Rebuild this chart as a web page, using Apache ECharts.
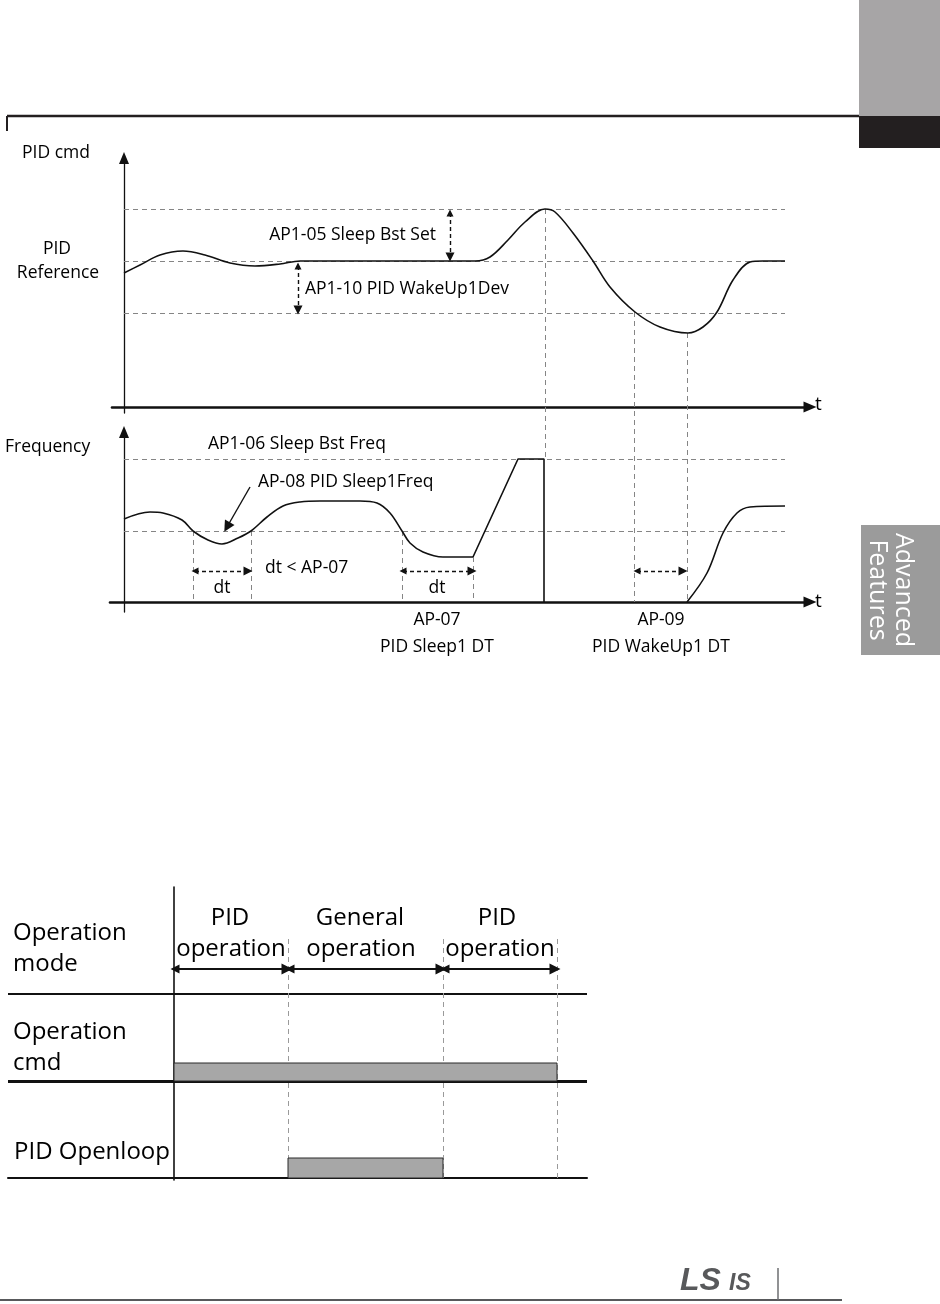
<!DOCTYPE html>
<html>
<head>
<meta charset="utf-8">
<script src="https://cdn.jsdelivr.net/npm/echarts@6/dist/echarts.min.js"></script>
<style>
  html, body { margin: 0; padding: 0; background: #fff; }
  #main { width: 940px; height: 1304px; }
</style>
</head>
<body>
<div id="main"></div>
<script>
// ---- data (time / level units) ----
// PID cmd curve
var pidTime  = [0, 16, 36, 59, 81, 106, 131, 156, 176, 351, 366, 384, 401, 421, 431, 449, 469, 486, 511, 536, 564, 579, 593, 609, 626, 639, 661];
var pidValue = [134, 142, 152, 156, 152, 144, 141, 143, 146, 146, 150, 167, 185, 198, 195, 174, 146, 120, 95, 80, 74, 80, 95, 127, 145, 146, 146];
// PID cmd levels: sleep boost set, reference, wake-up deviation
var pidLevels = [198, 146, 94];

// Frequency curve: running / sleep-boost ramp / wake-up
var freqTimeA  = [0, 26, 39, 58, 69, 84, 98, 114, 127, 143, 159, 176, 196, 236, 253, 266, 278, 286, 299, 319, 349];
var freqValueA = [83, 90, 89, 82, 71, 62, 58, 64, 71, 85, 96, 100, 101, 101, 99, 89, 71, 59, 50, 45, 45];
var freqTimeB  = [349, 394, 420, 420];
var freqValueB = [45, 143, 143, 0];
var freqTimeC  = [563, 583, 599, 613, 626, 661];
var freqValueC = [0, 29, 69, 89, 95, 96];
// Frequency levels: sleep boost freq, sleep freq
var freqLevels = [143, 71];
var levelEnd = 661;

// event times (shared by both plots)
var eventTime = [421, 510, 563];
var eventTop  = [198, 95, 74];
var eventBottom = [-52, -195, -195];
var sleepCheckTime = [69, 127, 278, 349];
var sleepCheckTop  = [71, 71, 71, 45];
var dtSpans = [[71, 124], [279, 348], [513, 559]];
var dtLevel = 31;

// Operation timing chart
var modeBounds = [0, 114, 269, 383];
var rowLines = [97, 184];
var cmdBar = [0, 383, 97, 115];
var openloopBar = [114, 269, 0, 20];

var zip = function (a, b) { return a.map(function (v, i) { return [v, b[i]]; }); };

var dash = { color: '#858585', width: 1, type: [5, 4], opacity: 1 };
var ink = '#111';
var font = '"Open Sans", "Noto Sans", sans-serif';

var chart = echarts.init(document.getElementById('main'));

function hLines(levels, x0, x1) {
    return levels.map(function (y) { return { coords: [[x0, y], [x1, y]] }; });
}

function txt(x, y, s, size, align) {
    return {
        type: 'text', x: x, y: y,
        style: { text: s, fill: '#000', font: (size || 17.5) + 'px ' + font, textAlign: align || 'left', textVerticalAlign: 'middle' }
    };
}

var axisOff = { show: false };

option = {
    backgroundColor: '#fff',
    animation: false,
    grid: [
        { left: 112, right: 130, top: 158, bottom: 891 },
        { left: 110, right: 130, top: 432, bottom: 692 },
        { left: 8, right: 353, top: 887, bottom: 124 }
    ],
    xAxis: [
        { gridIndex: 0, type: 'value', min: -12, max: 686, splitLine: axisOff, axisLabel: axisOff, axisTick: axisOff,
          axisLine: { onZero: true, symbol: ['none', 'triangle'], symbolSize: [11, 13], lineStyle: { color: ink, width: 2.6 } } },
        { gridIndex: 1, type: 'value', min: -14, max: 686, splitLine: axisOff, axisLabel: axisOff, axisTick: axisOff,
          axisLine: { onZero: true, symbol: ['none', 'triangle'], symbolSize: [11, 13], lineStyle: { color: ink, width: 2.6 } } },
        { gridIndex: 2, type: 'value', min: -166, max: 413, splitLine: axisOff, axisLabel: axisOff, axisTick: axisOff,
          axisLine: { onZero: true, lineStyle: { color: ink, width: 2 } } }
    ],
    yAxis: [
        { gridIndex: 0, type: 'value', min: -6, max: 249, splitLine: axisOff, axisLabel: axisOff, axisTick: axisOff,
          axisLine: { onZero: true, symbol: ['none', 'triangle'], symbolSize: [10, 12], lineStyle: { color: ink, width: 1.3 } } },
        { gridIndex: 1, type: 'value', min: -10, max: 170, splitLine: axisOff, axisLabel: axisOff, axisTick: axisOff,
          axisLine: { onZero: true, symbol: ['none', 'triangle'], symbolSize: [10, 12], lineStyle: { color: ink, width: 1.3 } } },
        { gridIndex: 2, type: 'value', min: -2, max: 291, splitLine: axisOff, axisLabel: axisOff, axisTick: axisOff,
          axisLine: { onZero: true, lineStyle: { color: ink, width: 1.6 } } }
    ],
    series: [
        // --- PID cmd plot
        { type: 'lines', coordinateSystem: 'cartesian2d', xAxisIndex: 0, yAxisIndex: 0, clip: false, silent: true,
          lineStyle: dash, data: hLines(pidLevels, 0, levelEnd) },
        { type: 'lines', coordinateSystem: 'cartesian2d', xAxisIndex: 0, yAxisIndex: 0, clip: false, silent: true,
          lineStyle: dash, data: eventTime.map(function (t, i) { return { coords: [[t, eventTop[i]], [t, eventBottom[i]]] }; }) },
        { type: 'line', xAxisIndex: 0, yAxisIndex: 0, data: zip(pidTime, pidValue), smooth: 0.35, showSymbol: false,
          lineStyle: { color: ink, width: 1.6 } },
        { type: 'lines', coordinateSystem: 'cartesian2d', xAxisIndex: 0, yAxisIndex: 0, clip: false, silent: true,
          symbol: ['triangle', 'triangle'], symbolSize: [7, 9],
          lineStyle: { color: ink, width: 1.4, type: [4, 3], opacity: 1 },
          data: [{ coords: [[326, 194], [326, 150]] }, { coords: [[174, 141], [174, 97]] }] },

        // --- Frequency plot
        { type: 'lines', coordinateSystem: 'cartesian2d', xAxisIndex: 1, yAxisIndex: 1, clip: false, silent: true,
          lineStyle: dash,
          data: hLines(freqLevels, 0, levelEnd).concat(sleepCheckTime.map(function (t, i) {
              return { coords: [[t, sleepCheckTop[i]], [t, 0]] };
          })) },
        { type: 'line', xAxisIndex: 1, yAxisIndex: 1, data: zip(freqTimeA, freqValueA), smooth: 0.35, showSymbol: false,
          lineStyle: { color: ink, width: 1.6 } },
        { type: 'line', xAxisIndex: 1, yAxisIndex: 1, data: zip(freqTimeB, freqValueB), showSymbol: false,
          lineStyle: { color: ink, width: 1.6 } },
        { type: 'line', xAxisIndex: 1, yAxisIndex: 1, data: zip(freqTimeC, freqValueC), smooth: 0.35, showSymbol: false,
          lineStyle: { color: ink, width: 1.6 } },
        { type: 'lines', coordinateSystem: 'cartesian2d', xAxisIndex: 1, yAxisIndex: 1, clip: false, silent: true,
          symbol: ['triangle', 'triangle'], symbolSize: [7, 9],
          lineStyle: { color: ink, width: 1.4, type: [4, 3], opacity: 1 },
          data: dtSpans.map(function (s) { return { coords: [[s[0], dtLevel], [s[1], dtLevel]] }; }) },
        { type: 'lines', coordinateSystem: 'cartesian2d', xAxisIndex: 1, yAxisIndex: 1, clip: false, silent: true,
          symbol: ['none', 'triangle'], symbolSize: [8, 11],
          lineStyle: { color: ink, width: 1.4, opacity: 1 },
          data: [{ coords: [[126, 115], [103, 75]] }] },

        // --- Operation timing chart
        { type: 'lines', coordinateSystem: 'cartesian2d', xAxisIndex: 2, yAxisIndex: 2, clip: false, silent: true,
          lineStyle: { color: ink, width: 2, opacity: 1 },
          data: [{ coords: [[-166, rowLines[1]], [413, rowLines[1]]] },
                 { coords: [[-166, rowLines[0]], [413, rowLines[0]]], lineStyle: { width: 3 } }] },
        { type: 'lines', coordinateSystem: 'cartesian2d', xAxisIndex: 2, yAxisIndex: 2, clip: false, silent: true,
          lineStyle: { color: '#9a9a9a', width: 1, type: [5, 4], opacity: 1 },
          data: modeBounds.slice(1).map(function (s) { return { coords: [[s, 239], [s, 0]] }; }) },
        { type: 'lines', coordinateSystem: 'cartesian2d', xAxisIndex: 2, yAxisIndex: 2, clip: false, silent: true,
          symbol: ['triangle', 'triangle'], symbolSize: [9, 11],
          lineStyle: { color: ink, width: 2, opacity: 1 },
          data: [{ coords: [[1, 209], [113, 209]] }, { coords: [[116, 209], [267, 209]] }, { coords: [[271, 209], [381, 209]] }] },
        { type: 'custom', xAxisIndex: 2, yAxisIndex: 2, silent: true,
          encode: { x: [0, 1], y: [2, 3] },
          data: [cmdBar, openloopBar],
          renderItem: function (params, api) {
              var a = api.coord([api.value(0), api.value(3)]);
              var b = api.coord([api.value(1), api.value(2)]);
              return { type: 'rect', shape: { x: a[0], y: a[1], width: b[0] - a[0], height: b[1] - a[1] },
                       style: { fill: '#a7a7a7', stroke: '#2a2a2a', lineWidth: 1 } };
          } }
    ],
    graphic: [
        // page header and tabs
        { type: 'line', shape: { x1: 7, y1: 116, x2: 860, y2: 116 }, style: { stroke: '#231f20', lineWidth: 2.5 } },
        { type: 'line', shape: { x1: 7, y1: 116, x2: 7, y2: 131 }, style: { stroke: '#231f20', lineWidth: 2 } },
        { type: 'rect', shape: { x: 859, y: 0, width: 81, height: 116 }, style: { fill: '#a7a5a6' } },
        { type: 'rect', shape: { x: 859, y: 116, width: 81, height: 32 }, style: { fill: '#231f20' } },
        { type: 'rect', shape: { x: 861, y: 525, width: 79, height: 130 }, style: { fill: '#9b9b9b' } },
        { type: 'text', x: 890, y: 590, rotation: -Math.PI / 2,
          style: { text: 'Advanced\nFeatures', fill: '#fff', font: '25px ' + font, lineHeight: 26, textAlign: 'center', textVerticalAlign: 'middle' } },

        // footer
        { type: 'line', shape: { x1: 0, y1: 1300, x2: 842, y2: 1300 }, style: { stroke: '#58595b', lineWidth: 2 } },
        { type: 'line', shape: { x1: 778, y1: 1268, x2: 778, y2: 1300 }, style: { stroke: '#6d6e70', lineWidth: 1.5 } },
        { type: 'text', x: 680, y: 1297, style: { text: 'LS', fill: '#58595b', font: 'italic bold 32px "Liberation Sans", sans-serif', textVerticalAlign: 'bottom' } },
        { type: 'text', x: 729, y: 1295, style: { text: 'IS', fill: '#58595b', font: 'italic bold 23px "Liberation Sans", sans-serif', textVerticalAlign: 'bottom' } },

        // PID cmd plot texts
        txt(22, 153, 'PID cmd'),
        txt(57, 249, 'PID', 17.5, 'center'),
        txt(58, 273, 'Reference', 17.5, 'center'),
        txt(436, 235, 'AP1-05 Sleep Bst Set', 17.5, 'right'),
        txt(305, 289, 'AP1-10 PID WakeUp1Dev'),
        txt(815, 405, 't', 19),

        // Frequency plot texts
        txt(5, 447, 'Frequency'),
        txt(208, 444, 'AP1-06 Sleep Bst Freq'),
        txt(258, 482, 'AP-08 PID Sleep1Freq'),
        txt(265, 568, 'dt < AP-07'),
        txt(222, 588, 'dt', 17.5, 'center'),
        txt(437, 588, 'dt', 17.5, 'center'),
        txt(815, 602, 't', 19),
        txt(437, 620, 'AP-07', 17.5, 'center'),
        txt(437, 647, 'PID Sleep1 DT', 17.5, 'center'),
        txt(661, 620, 'AP-09', 17.5, 'center'),
        txt(661, 647, 'PID WakeUp1 DT', 17.5, 'center'),

        // Operation timing chart texts
        txt(13, 933, 'Operation', 24),
        txt(13, 964, 'mode', 24),
        txt(13, 1032, 'Operation', 24),
        txt(13, 1063, 'cmd', 24),
        txt(14, 1152, 'PID Openloop', 24),
        txt(230, 918, 'PID', 24, 'center'),
        txt(231, 949, 'operation', 24, 'center'),
        txt(360, 918, 'General', 24, 'center'),
        txt(361, 949, 'operation', 24, 'center'),
        txt(497, 918, 'PID', 24, 'center'),
        txt(500, 949, 'operation', 24, 'center')
    ]
};

chart.setOption(option);
</script>
</body>
</html>
